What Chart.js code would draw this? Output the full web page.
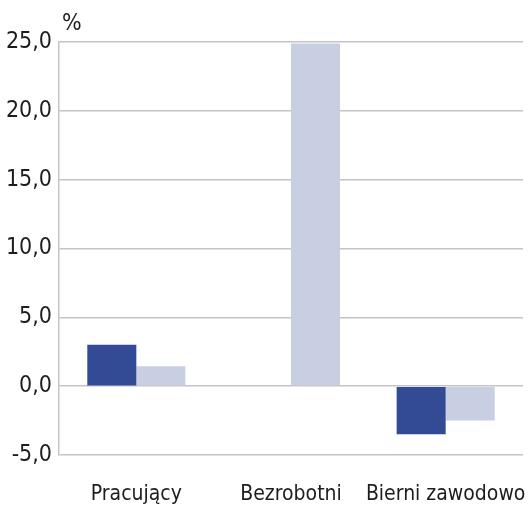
<!DOCTYPE html>
<html>
<head>
<meta charset="utf-8">
<script src="https://cdn.jsdelivr.net/npm/chart.js@4"></script>
<style>
  html, body { margin: 0; padding: 0; background: #fff; }
  #wrap { width: 528px; height: 509px; position: relative; }
</style>
</head>
<body>
<div id="wrap"><canvas id="chart"></canvas></div>
<script>
const categories = ['Pracujący', 'Bezrobotni', 'Bierni zawodowo'];
const seriesDark = [3.0, 0.0, -3.5];
const seriesLight = [1.45, 24.9, -2.5];
const yTicks = [-5, 0, 5, 10, 15, 20, 25];
const unitLabel = '%';

const FONT = '"DejaVu Sans Condensed", "DejaVu Sans", sans-serif';
const fmt = v => v.toFixed(1).replace('.', ',');

// draws the "%" unit above the y axis
const unitPlugin = {
  id: 'unit',
  afterDraw(chart) {
    const ctx = chart.ctx;
    ctx.save();
    ctx.font = 'condensed 23px ' + FONT;
    ctx.fillStyle = '#1d1d1b';
    ctx.textBaseline = 'alphabetic';
    ctx.fillText(unitLabel, chart.chartArea.left + 3, chart.chartArea.top - 12);
    ctx.restore();
  }
};

new Chart(document.getElementById('chart'), {
  type: 'bar',
  data: {
    labels: categories,
    datasets: [
      { data: seriesDark, backgroundColor: '#334a94' },
      { data: seriesLight, backgroundColor: '#c9cfe3' }
    ]
  },
  options: {
    responsive: true,
    maintainAspectRatio: false,
    animation: false,
    layout: { padding: { top: 42, right: 5, bottom: 0, left: 0 } },
    datasets: { bar: { categoryPercentage: 0.634, barPercentage: 1.0, borderWidth: 0 } },
    plugins: { legend: { display: false }, tooltip: { enabled: false } },
    scales: {
      x: {
        afterFit(scale) { scale.height = 54; scale.paddingLeft = 0; scale.paddingRight = 0; },
        grid: { display: false, drawTicks: false },
        border: { display: false },
        ticks: { color: '#1d1d1b', font: { family: FONT, size: 21, style: 'condensed' }, padding: 27, maxRotation: 0, autoSkip: false }
      },
      y: {
        min: -5,
        max: 25,
        afterFit(scale) { scale.width = 59; },
        afterBuildTicks(scale) { scale.ticks = yTicks.map(v => ({ value: v })); },
        grid: { color: '#c4c4c4', lineWidth: 1.5, drawTicks: false },
        border: { color: '#c4c4c4', width: 1.5 },
        ticks: { color: '#1d1d1b', font: { family: FONT, size: 23, style: 'condensed' }, padding: 7, callback: v => fmt(v) }
      }
    }
  },
  plugins: [unitPlugin]
});
</script>
</body>
</html>
